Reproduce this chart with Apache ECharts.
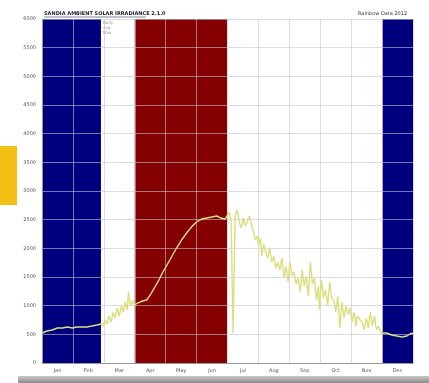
<!DOCTYPE html>
<html><head><meta charset="utf-8">
<script src="https://cdn.jsdelivr.net/npm/echarts@6/dist/echarts.min.js"></script>
<style>html,body{margin:0;padding:0;background:#fff}#c{width:429px;height:383px}</style>
</head><body><div id="c"></div>
<script>
// Day of year (0-365) and values
const days = [0,5,10,15,20,25,30,34,39,44,49,54,58,
 60,62,64,66,68,70,72,74,76,78,80,82,84,85,87,89,91,
 94,99,103,107,111,115,119,123,128,133,138,143,148,152,157,162,167,172,176,180,182,
 184,186,188,190,192,194,196,198,200,202,204,206,208,210,212,213,215,216,218,220,222,224,226,228,230,232,234,236,238,240,242,244,246,248,250,252,254,256,258,260,262,264,266,268,270,272,273,275,277,279,281,283,285,287,289,291,293,295,297,299,301,303,305,307,309,310,313,315,317,319,321,323,325,327,329,331,333,335,
 339,344,349,354,359,362,365];
const values = [523,558,576,610,610,628,610,628,628,628,645,663,680,
 645,750,680,820,715,889,785,959,820,994,889,1064,924,1238,994,1099,1012,
 1046,1081,1099,1203,1325,1448,1587,1709,1866,2023,2163,2285,2389,2459,2511,2529,2546,2564,2529,2511,2564,
 2633,2494,523,2581,2669,2459,2354,2529,2389,2459,2564,2424,2285,2145,2215,2040,2180,1866,2075,1936,1831,2006,1761,1866,1657,1761,1622,1831,1482,1692,1413,1761,1517,1587,1378,1482,1238,1622,1343,1517,1168,1761,1378,1482,1099,1343,924,1448,1134,1273,994,1413,1134,1099,889,1168,610,1064,785,994,855,959,715,889,645,820,750,715,576,785,610,889,645,820,576,645,541,523,
 523,488,471,453,471,506,523];
const monthLabels = ['Jan','Feb','Mar','Apr','May','Jun','Jul','Aug','Sep','Oct','Nov','Dec'];
const yTicks = [0,500,1000,1500,2000,2500,3000,3500,4000,4500,5000,5500,6000];
// shaded seasons [startDay, endDay, kind]
const bandStart = [0, 91.25, 335];
const bandEnd = [58, 182, 365];
const bandKind = ['cold','hot','cold'];

const bandColors = {cold:'#00007f', hot:'#850000'};
const chart = echarts.init(document.getElementById('c'));
const pts = days.map((d,i)=>[d, values[i]]);
const gridColor = 'rgba(195,195,210,0.6)';
chart.setOption({
  animation:false,
  backgroundColor:'#ffffff',
  grid:{left:42,right:16,top:19,bottom:20,show:false},
  xAxis:[{type:'value',min:0,max:365,interval:365/12,z:2,
    axisLabel:{show:false},axisTick:{show:false},
    axisLine:{show:true,lineStyle:{color:'#999',width:1}},
    splitLine:{show:true,lineStyle:{color:gridColor,width:1}}},
   {type:'category',data:monthLabels,position:'bottom',boundaryGap:true,
    axisLine:{show:false},axisTick:{show:false},splitLine:{show:false},
    axisLabel:{fontSize:5,color:'#555',margin:5,fontFamily:'DejaVu Sans'}}],
  yAxis:{type:'value',min:yTicks[0],max:yTicks[yTicks.length-1],interval:yTicks[1]-yTicks[0],z:2,
    axisLine:{show:true,lineStyle:{color:'#999'}},axisTick:{show:false},
    axisLabel:{fontSize:5,color:'#555',margin:6,fontFamily:'DejaVu Sans',formatter:v=>String(v)},
    splitLine:{show:true,lineStyle:{color:gridColor,width:1}}},
  series:[
   {type:'line',xAxisIndex:0,data:[],z:0,silent:true,
    markArea:{silent:true,z:0,data:bandStart.map((s,i)=>[{xAxis:s,itemStyle:{color:bandColors[bandKind[i]],opacity:1}},{xAxis:bandEnd[i]}])}},
   {type:'line',xAxisIndex:0,data:pts,z:3,symbol:'none',
    lineStyle:{color:'#dadf7e',width:1.4}}
  ],
  graphic:[
   {type:'rect',shape:{x:0,y:146,width:17,height:59},style:{fill:'#f5c014'}},
   {type:'rect',shape:{x:18,y:376,width:411,height:7},style:{fill:new echarts.graphic.LinearGradient(0,0,0,1,[{offset:0,color:'#c8c8c8'},{offset:1,color:'#8c8c8c'}])}},
   {type:'text',left:44,top:11,style:{text:'SANDIA AMBIENT SOLAR IRRADIANCE 2.1.0',fontSize:5,fontWeight:'bold',fill:'#223',fontFamily:'DejaVu Sans'}},
   {type:'line',shape:{x1:44,y1:17,x2:146,y2:17},style:{stroke:'#335',lineWidth:0.6}},
   {type:'text',left:358,top:11,style:{text:'Rainbow Data 2012',fontSize:5,fill:'#334',fontFamily:'DejaVu Sans'}},
   {type:'text',left:103,top:20,style:{text:'Daily\nAvg\nMax',fontSize:4,lineHeight:5,fill:'#999',fontFamily:'DejaVu Sans'}}
  ]
});
</script></body></html>
